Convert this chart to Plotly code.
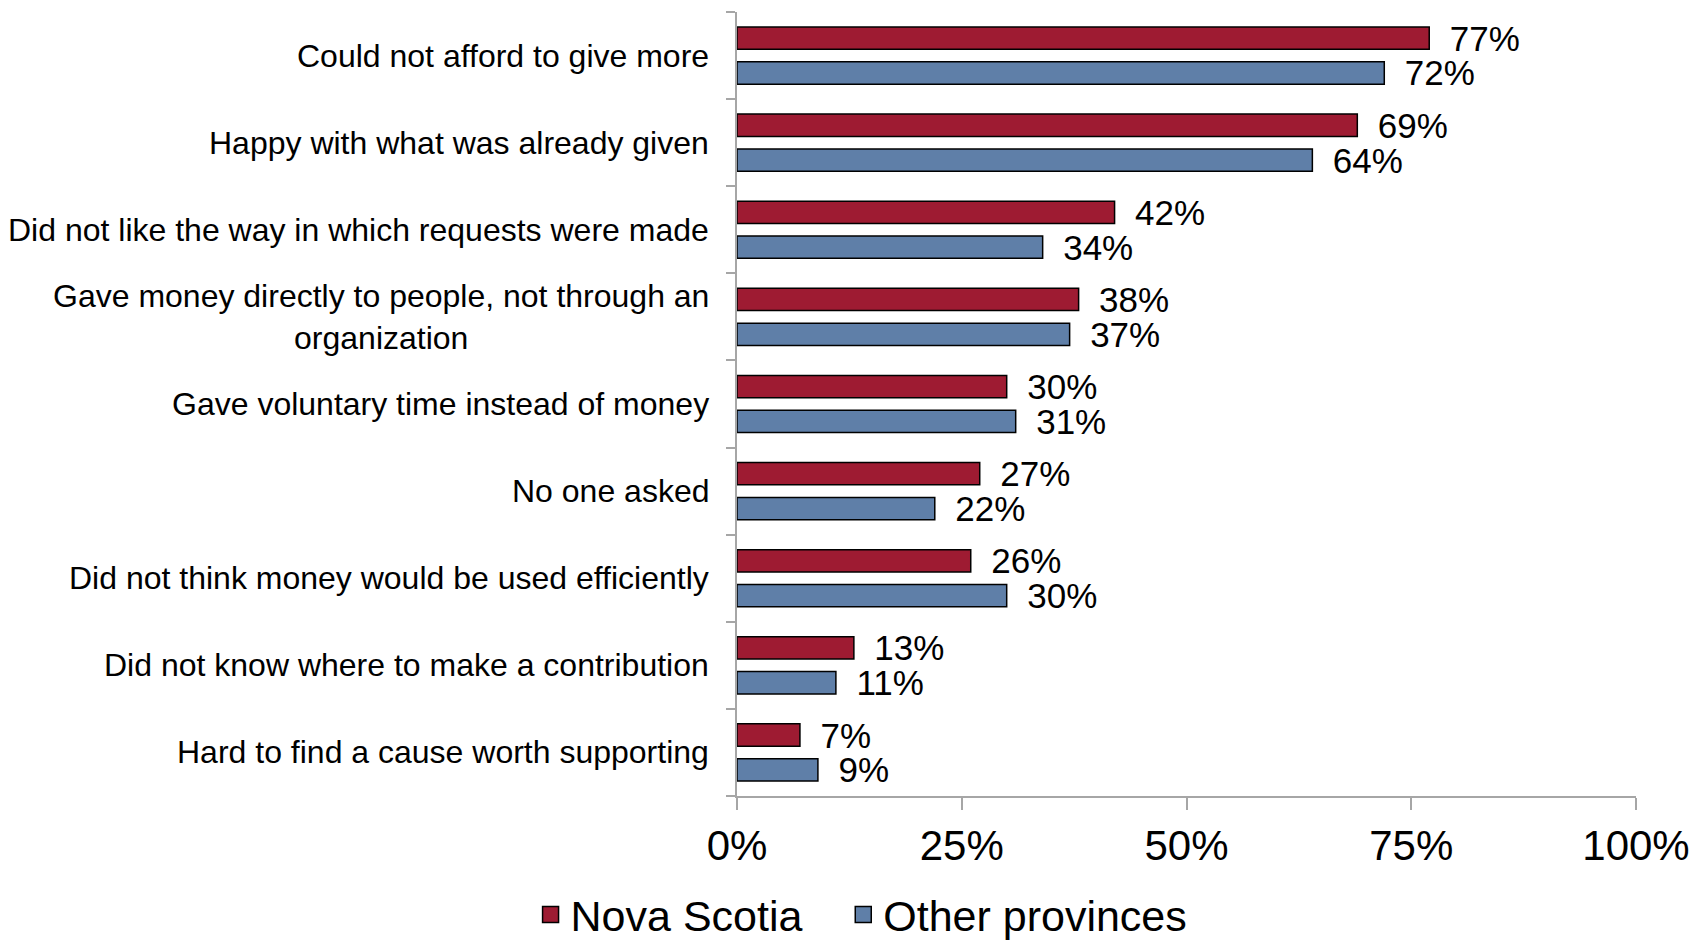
import plotly.graph_objects as go

# Reasons for not giving more, by region (percent of respondents)
reasons = [
    "Could not afford to give more",
    "Happy with what was already given",
    "Did not like the way in which requests were made",
    "Gave money directly to people, not through an<br>organization",
    "Gave voluntary time instead of money",
    "No one asked",
    "Did not think money would be used efficiently",
    "Did not know where to make a contribution",
    "Hard to find a cause worth supporting",
]
nova_scotia = [77, 69, 42, 38, 30, 27, 26, 13, 7]
other_provinces = [72, 64, 34, 37, 31, 22, 30, 11, 9]
x_ticks = [0, 25, 50, 75, 100]

RED = "#9E1B32"
BLUE = "#5F7FA8"
FONT = "Liberation Sans, Arial, sans-serif"
NBSP = "\u00a0"

cat_ids = list(range(len(reasons)))

fig = go.Figure()
for name, pad, vals, color in [("Nova Scotia", 3, nova_scotia, RED),
                               ("Other provinces", 0, other_provinces, BLUE)]:
    fig.add_trace(go.Bar(
        name=name,
        y=cat_ids,
        x=vals,
        orientation="h",
        marker=dict(color=color, line=dict(color="black", width=1.5)),
        text=[f"\u2002{v}%" for v in vals],
        textposition="outside",
        textfont=dict(family=FONT, size=35, color="black"),
        constraintext="none",
        cliponaxis=False,
        showlegend=False,
        hoverinfo="x+y",
    ))
    # legend entry with a larger square swatch
    fig.add_trace(go.Scatter(
        name=name + NBSP * pad,
        x=[None], y=[None],
        mode="markers",
        marker=dict(symbol="square", size=22, color=color,
                    line=dict(color="black", width=1.5)),
        showlegend=True,
    ))

# category labels, centred line-by-line like a wrapped label
for i, label in enumerate(reasons):
    fig.add_annotation(
        x=0, xref="paper", y=i, yref="y",
        xanchor="right", yanchor="middle", xshift=-26,
        text=label, align="center", showarrow=False,
        font=dict(family=FONT, size=32, color="black"),
    )

fig.update_layout(
    width=1696, height=940,
    margin=dict(l=737, r=60, t=12, b=144, autoexpand=False),
    paper_bgcolor="white",
    plot_bgcolor="white",
    barmode="group",
    bargap=0.2,
    bargroupgap=0.36,
    font=dict(family=FONT, color="black"),
    legend=dict(
        orientation="h",
        xref="container", yref="container",
        x=0.508, y=0.027, xanchor="center", yanchor="middle",
        font=dict(family=FONT, size=43, color="black"),
        itemclick=False,
    ),
    xaxis=dict(
        range=[0, 100],
        tickvals=x_ticks,
        ticktext=[f"{t}%" for t in x_ticks],
        showgrid=False, zeroline=False,
        showline=True, linecolor="#A6A6A6", linewidth=2,
        ticks="outside", ticklen=12, tickwidth=2, tickcolor="#A6A6A6",
        tickfont=dict(family=FONT, size=42, color="black"),
        automargin=False,
        fixedrange=True,
    ),
    yaxis=dict(
        type="linear",
        range=[len(reasons) - 0.5, -0.5],
        tickvals=[i - 0.5 for i in range(len(reasons) + 1)],
        showticklabels=False,
        showgrid=False, zeroline=False,
        showline=True, linecolor="#A6A6A6", linewidth=2,
        ticks="outside", ticklen=9, tickwidth=2, tickcolor="#A6A6A6",
        automargin=False,
        fixedrange=True,
    ),
)

fig.write_html("out.html")
